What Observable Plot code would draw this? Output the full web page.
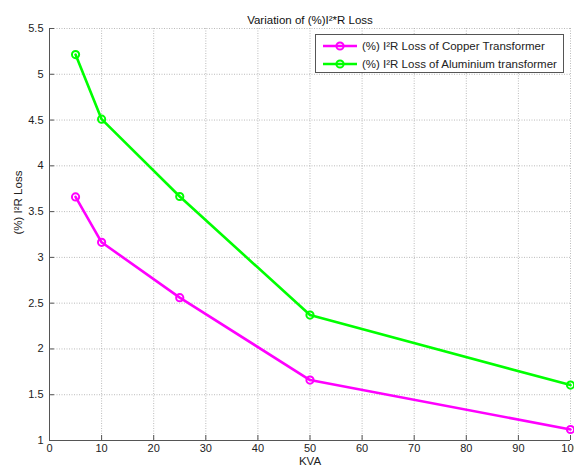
<!DOCTYPE html>
<html>
<head>
<meta charset="utf-8">
<script src="https://cdn.jsdelivr.net/npm/d3@7"></script>
<script src="https://cdn.jsdelivr.net/npm/@observablehq/plot@0.6"></script>
<style>
  body { margin: 0; background: #fff; }
  #wrap { position: relative; width: 574px; height: 470px; font-family: "Liberation Sans", Arial, sans-serif; }
  #legend { position: absolute; left: 315px; top: 34px; width: 247px; height: 37px; border: 1px solid #555; background: #fff; font-size: 11.5px; color: #222; }
  .row { position: absolute; left: 6px; height: 18px; display: flex; align-items: center; white-space: nowrap; }
  .row svg { margin-right: 4px; }
</style>
</head>
<body>
<div id="wrap"></div>
<script>
const title = "Variation of (%)I²*R Loss";
const xLabel = "KVA";
const yLabel = "(%) I²R Loss";
const kva = [5, 10, 25, 50, 100];
const copper = [3.66, 3.165, 2.56, 1.66, 1.12];
const aluminium = [5.215, 4.51, 3.665, 2.37, 1.605];
const seriesNames = ["(%) I²R Loss of Copper Transformer", "(%) I²R Loss of Aluminium transformer"];
const seriesColors = ["#ff00ff", "#00ff00"];
const xTicks = [0, 10, 20, 30, 40, 50, 60, 70, 80, 90, 100];
const xTickLabels = ["0", "10", "20", "30", "40", "50", "60", "70", "80", "90", "100"];
const yTicks = [1, 1.5, 2, 2.5, 3, 3.5, 4, 4.5, 5, 5.5];
const yTickLabels = ["1", "1.5", "2", "2.5", "3", "3.5", "4", "4.5", "5", "5.5"];

const rows = [];
[copper, aluminium].forEach((vals, s) => {
  kva.forEach((k, i) => rows.push({kva: k, loss: vals[i], series: seriesNames[s]}));
});

const colorScale = {domain: seriesNames, range: seriesColors};

const chart = Plot.plot({
  width: 574,
  height: 470,
  marginLeft: 49,
  marginRight: 4,
  marginTop: 28,
  marginBottom: 30,
  style: {fontFamily: "'Liberation Sans', Arial, sans-serif", fontSize: "11px", color: "#222", background: "#fff"},
  x: {domain: [0, 100]},
  y: {domain: [1, 5.5]},
  color: colorScale,
  marks: [
    Plot.gridX(xTicks, {stroke: "#aaa", strokeOpacity: 0.8, strokeDasharray: "1,1.5"}),
    Plot.gridY(yTicks, {stroke: "#aaa", strokeOpacity: 0.8, strokeDasharray: "1,1.5"}),
    Plot.axisX(xTicks, {tickSize: 0, tickPadding: 4, tickFormat: d => xTickLabels[xTicks.indexOf(d)], label: null}),
    Plot.axisX(xTicks, {tickSize: -5, stroke: "#555", tickFormat: () => "", label: null}),
    Plot.axisY(yTicks, {tickSize: 0, tickPadding: 6, tickFormat: d => yTickLabels[yTicks.indexOf(d)], label: null}),
    Plot.axisY(yTicks, {tickSize: -5, stroke: "#555", tickFormat: () => "", label: null}),
    Plot.ruleX([0], {stroke: "#555"}),
    Plot.ruleY([1], {stroke: "#555"}),
    Plot.line(rows, {x: "kva", y: "loss", z: "series", stroke: "series", strokeWidth: 2.6}),
    Plot.dot(rows, {x: "kva", y: "loss", stroke: "series", r: 3.6, strokeWidth: 2, fill: "none"}),
    Plot.text([title], {frameAnchor: "top", dy: -13, text: d => d, fontSize: 11.5, fill: "#111"}),
    Plot.text([xLabel], {frameAnchor: "bottom", dy: 24, text: d => d, fontSize: 11.5, fill: "#222"}),
    Plot.text([yLabel], {frameAnchor: "left", dx: -31, rotate: -90, text: d => d, fontSize: 11.5, fill: "#222"})
  ]
});

const wrap = document.getElementById("wrap");
wrap.appendChild(chart);

const legend = document.createElement("div");
legend.id = "legend";
seriesNames.forEach((name, i) => {
  const row = document.createElement("div");
  row.className = "row";
  row.style.top = (i === 0 ? 2 : 20) + "px";
  const ns = "http://www.w3.org/2000/svg";
  const s = document.createElementNS(ns, "svg");
  s.setAttribute("width", 36); s.setAttribute("height", 12);
  const ln = document.createElementNS(ns, "line");
  ln.setAttribute("x1", 1); ln.setAttribute("x2", 35); ln.setAttribute("y1", 6); ln.setAttribute("y2", 6);
  ln.setAttribute("stroke", seriesColors[i]); ln.setAttribute("stroke-width", 2.6);
  const c = document.createElementNS(ns, "circle");
  c.setAttribute("cx", 18); c.setAttribute("cy", 6); c.setAttribute("r", 3.6);
  c.setAttribute("stroke", seriesColors[i]); c.setAttribute("stroke-width", 2); c.setAttribute("fill", "none");
  s.appendChild(ln); s.appendChild(c);
  const t = document.createElement("span");
  t.textContent = name;
  row.appendChild(s); row.appendChild(t);
  legend.appendChild(row);
});
wrap.appendChild(legend);
</script>
</body>
</html>
